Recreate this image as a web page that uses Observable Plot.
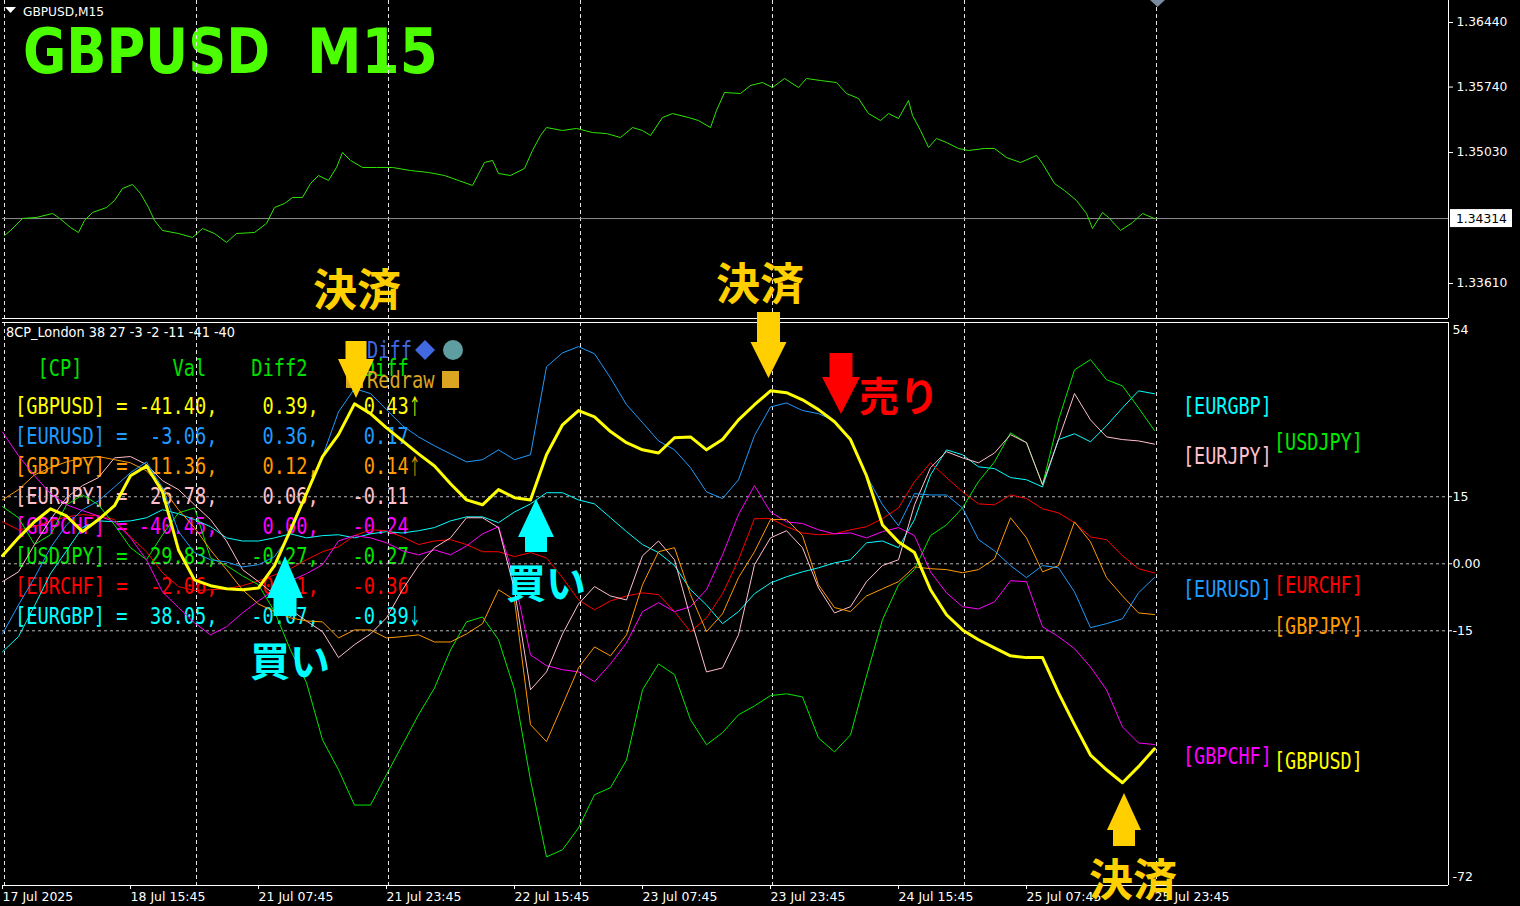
<!DOCTYPE html>
<html><head><meta charset="utf-8">
<script src="https://cdn.jsdelivr.net/npm/d3@7"></script>
<script src="https://cdn.jsdelivr.net/npm/@observablehq/plot@0.6"></script>
<style>
html,body{margin:0;padding:0;background:#000;width:1520px;height:906px;overflow:hidden;}
#wrap{position:relative;width:1520px;height:906px;background:#000;}
</style></head><body><div id="wrap"></div>
<script>
// ---------------- data ----------------
const sampleStep = 8; // bars between indicator samples (M15 bars)
const pairs = ["GBPUSD","EURUSD","GBPJPY","EURJPY","GBPCHF","USDJPY","EURCHF","EURGBP"];
const pairColors = ["#ffff00","#1e9bff","#ff9900","#ffc0cb","#ff00ff","#00e800","#ff0000","#00ffff"];

const GBPUSD = [1.8,5.8,9.4,12.3,10.7,7.2,9.9,13.0,19.7,21.9,16.1,3.1,-3.6,-4.9,-5.6,-5.8,-5.4,-0.4,7.6,15.7,24.0,28.9,35.8,33.6,30.4,27.5,24.6,21.9,17.9,14.3,13.2,16.6,14.8,14.3,24.4,31.1,34.3,32.9,29.6,27.1,25.5,24.8,28.2,28.4,25.5,27.8,32.2,35.6,38.7,38.3,36.7,34.5,31.8,27.8,19.7,8.7,4.9,2.5,-5.8,-11.4,-14.8,-17.0,-18.8,-20.6,-21.0,-21.0,-28.9,-36.0,-42.8,-46.1,-49.0,-45.4,-41.4];
const EURUSD = [-15.7,-9.2,-3.1,3.6,8.7,12.1,14.1,17.2,20.4,22.8,17.0,7.2,2.5,0.9,0.4,-0.7,-0.2,1.6,6.7,15.7,24.0,34.0,39.2,38.1,34.5,30.9,28.4,26.4,24.6,22.8,23.3,25.5,23.3,24.4,44.1,47.2,48.6,47.0,41.6,35.6,31.6,27.5,25.5,21.5,16.1,14.6,18.8,28.7,35.1,36.0,34.3,33.6,32.0,27.8,19.7,13.2,8.5,15.7,15.4,15.4,12.5,5.4,2.9,-0.4,-3.1,-0.4,-0.9,-6.3,-14.3,-13.4,-12.3,-6.5,-3.06];
const GBPJPY = [14.3,16.6,19.9,21.5,22.8,23.7,24.0,23.3,22.6,20.8,17.0,12.1,8.1,3.1,-1.3,-5.8,-9.0,-10.7,-12.1,-12.8,-13.0,-16.6,-14.8,-14.8,-16.6,-16.3,-15.9,-17.5,-17.5,-15.7,-13.4,-5.8,-8.1,-36.0,-39.8,-31.6,-23.3,-18.6,-20.6,-15.9,-4.7,2.7,3.6,-6.9,-15.2,-11.2,-3.1,2.7,9.9,9.9,6.3,-4.7,-9.8,-10.7,-7.2,-5.6,-4.0,-0.7,-1.1,-1.3,-2.0,-1.3,1.1,10.3,5.8,-1.8,-0.4,9.4,4.9,-3.1,-7.2,-11.0,-11.36];
const EURJPY = [-4.0,-1.8,4.3,9.9,14.8,17.5,19.3,23.7,24.0,22.2,18.6,16.6,13.2,9.9,5.1,-1.3,-4.0,-6.9,-10.3,-12.8,-15.2,-21.0,-18.1,-15.7,-12.1,-5.8,-0.4,3.6,5.8,10.3,10.3,8.1,-5.8,-28.2,-24.2,-15.7,-9.0,-5.1,-7.2,-8.1,1.8,5.1,0.9,-12.1,-24.2,-23.3,-15.9,-0.2,5.8,7.4,3.6,-5.4,-11.0,-9.6,-4.0,-0.4,0.9,13.2,21.5,25.1,23.7,22.6,24.8,28.9,27.1,17.7,27.8,38.1,32.2,28.4,27.8,27.5,26.78];
const GBPCHF = [29.5,24.2,19.7,15.7,13.2,11.9,10.7,9.4,5.8,0.9,-6.3,-9.8,-13.2,-15.9,-14.1,-11.0,-8.3,-5.8,-3.8,-2.2,-0.2,5.1,6.3,5.8,4.7,2.9,2.0,3.1,2.0,4.0,6.7,8.3,-3.6,-20.4,-22.8,-23.7,-24.2,-26.4,-22.4,-17.7,-10.7,-8.7,-10.7,-9.6,-5.8,2.0,11.0,17.5,11.6,9.4,9.0,7.6,6.7,6.9,5.8,7.2,8.1,6.3,-1.8,-6.5,-9.6,-10.1,-8.5,-3.8,-4.0,-14.1,-16.3,-19.0,-23.1,-28.2,-36.5,-40.1,-40.45];
const USDJPY = [12.8,10.3,4.3,6.5,13.2,15.4,13.2,8.7,3.6,0.9,6.5,11.4,12.5,1.3,-0.4,-2.7,-4.7,-10.7,-19.3,-26.6,-39.4,-46.1,-54.0,-54.0,-47.2,-40.5,-33.8,-27.8,-19.3,-13.0,-11.9,-17.0,-28.2,-48.4,-65.6,-64.0,-59.1,-51.7,-50.1,-43.9,-28.2,-22.4,-24.8,-34.9,-40.5,-37.8,-33.8,-31.8,-29.5,-29.1,-29.8,-39.0,-42.1,-38.3,-25.1,-12.5,-4.7,-1.3,6.3,8.7,12.5,18.4,22.8,29.3,27.1,17.7,32.2,43.4,45.7,41.2,39.8,34.9,29.83];
const EURCHF = [9.4,7.6,8.3,9.6,10.5,11.0,10.7,9.9,6.0,2.7,-2.0,-5.1,-6.0,-5.8,-5.6,-4.9,-3.8,-2.5,-1.1,0.9,2.7,3.8,6.3,7.6,7.4,6.0,4.3,5.1,5.4,4.3,2.7,2.7,1.6,2.5,1.3,-3.1,-8.1,-10.3,-8.3,-7.2,-6.5,-6.9,-10.7,-15.2,-12.1,-6.7,0.9,10.1,10.1,8.3,6.9,6.5,6.7,7.6,8.3,10.1,12.5,18.4,22.6,19.3,16.1,13.4,13.2,15.4,14.6,12.3,11.4,9.2,6.0,5.4,1.8,-1.1,-2.06];
const EURGBP = [-19.7,-16.3,-9.4,-2.2,2.9,8.1,9.6,9.4,9.6,10.3,12.1,11.2,9.9,8.3,5.8,5.1,5.1,5.8,6.7,5.8,6.3,6.5,5.8,6.7,7.2,6.9,7.4,8.1,9.6,10.5,10.5,9.2,11.6,13.4,15.9,15.9,14.3,13.4,10.3,7.2,4.3,2.5,-0.4,-5.8,-9.2,-13.4,-10.7,-6.7,-4.3,-2.9,-1.8,-0.9,0.2,0.9,4.7,5.1,3.6,9.9,19.9,25.5,24.4,21.7,21.3,19.3,18.8,17.2,27.8,29.1,27.3,30.9,34.9,38.7,38.05];

// GBPUSD close, read at the turning points of the price line (bar index, price)
const priceBars = [1,4,10,17,25,28,34,38,41,45,52,56,60,65,69,73,76,80,88,95,100,106,112,117,126,132,136,141,145,150,154,158,163,167,170,174,180,187,195,204,213,221,228,235,241,245,248,254,261,265,269,272,280,287,295,302,309,315,320,324,330,335,343,348,354,357,361,369,374,380,385,391,398,402,409,417,422,428,433,439,443,448,453,455,459,463,467,472,478,483,491,496,502,509,517,520,526,531,537,542,545,550,553,559,565,570,576];
const price = [1.34130,1.34185,1.34315,1.34326,1.34369,1.34326,1.34217,1.34163,1.34293,1.34380,1.34434,1.34510,1.34640,1.34683,1.34586,1.34434,1.34293,1.34185,1.34152,1.34109,1.34206,1.34152,1.34055,1.34152,1.34163,1.34261,1.34434,1.34477,1.34543,1.34543,1.34694,1.34781,1.34727,1.34868,1.35030,1.34944,1.34868,1.34868,1.34868,1.34835,1.34814,1.34781,1.34727,1.34673,1.34922,1.34944,1.34803,1.34781,1.34857,1.35052,1.35215,1.35301,1.35269,1.35291,1.35247,1.35236,1.35193,1.35301,1.35269,1.35215,1.35410,1.35453,1.35410,1.35377,1.35301,1.35486,1.35681,1.35670,1.35757,1.35789,1.35735,1.35833,1.35735,1.35833,1.35811,1.35789,1.35670,1.35616,1.35453,1.35377,1.35453,1.35399,1.35594,1.35432,1.35269,1.35085,1.35182,1.35139,1.35074,1.35052,1.35074,1.35074,1.34976,1.34922,1.34998,1.34911,1.34694,1.34618,1.34510,1.34369,1.34206,1.34380,1.34326,1.34185,1.34271,1.34369,1.34314];

const bidPrice = 1.34314;
const priceTicks = [1.33610,1.35030,1.35740,1.36440];
const indTicks = [15,0,-15];
const indTickLabels = ["15","0.00","-15"];
const indMax = 54, indMin = -72;
const xTickBars = [0,64,128,192,256,320,384,448,512,576];
const xTickLabels = ["17 Jul 2025","18 Jul 15:45","21 Jul 07:45","21 Jul 23:45","22 Jul 15:45","23 Jul 07:45","23 Jul 23:45","24 Jul 15:45","25 Jul 07:45","25 Jul 23:45"];
const gridBars = [1,97,193,289,385,481,577];

const tableVal   = [-41.40,-3.06,-11.36,26.78,-40.45,29.83,-2.06,38.05];
const tableDiff2 = [0.39,0.36,0.12,0.06,0.00,-0.27,-0.01,-0.07];
const tableDiff  = [0.43,0.17,0.14,-0.11,-0.24,-0.27,-0.36,-0.39];
const tableArrow = ["↑","","↑","","","","","↓"];
const headerText = "8CP_London 38 27 -3 -2 -11 -41 -40";

// ---------------- build ----------------
const series = {GBPUSD,EURUSD,GBPJPY,EURJPY,GBPCHF,USDJPY,EURCHF,EURGBP};
const bars = GBPUSD.map((_, i) => i * sampleStep);
const xDomain = [0, 723];
const colorOf = Object.fromEntries(pairs.map((p, i) => [p, pairColors[i]]));
const rows = pairs.flatMap(p => series[p].map((v, i) => ({pair: p, bar: bars[i], v})));
const priceRows = price.map((p, i) => ({bar: priceBars[i], p}));

const wrap = document.getElementById("wrap");
const W = 1520, H = 906;

function layer() {
  return d3.create("svg").attr("width", W).attr("height", H)
    .style("position", "absolute").style("left", "0px").style("top", "0px");
}
const under = layer();
wrap.appendChild(under.node());

const baseStyle = {background: "transparent", color: "#ffffff", fontFamily: "DejaVu Sans", fontSize: "12px", overflow: "visible"};

const topPlot = Plot.plot({
  width: W, height: 319, marginLeft: 2, marginRight: 72, marginTop: 0, marginBottom: 1,
  style: baseStyle,
  x: {domain: xDomain, axis: null},
  y: {domain: [1.332305, 1.366785]},
  marks: [
    Plot.ruleX(gridBars, {stroke: "#e6e6e6", strokeDasharray: "4,3"}),
    Plot.ruleY([bidPrice], {stroke: "#8f8f8f"}),
    Plot.line(priceRows, {x: "bar", y: "p", stroke: "#2fe600", strokeWidth: 1}),
    Plot.axisY({anchor: "right", ticks: priceTicks, tickSize: 4, tickPadding: 4, label: null,
      tickFormat: d => d.toFixed(5), fontSize: 12.3}),
    Plot.ruleX([xDomain[1]], {stroke: "#ffffff"}),
    Plot.ruleY([1.332305], {stroke: "#ffffff"})
  ]
});
topPlot.style.position = "absolute"; topPlot.style.left = "0px"; topPlot.style.top = "0px";
wrap.appendChild(topPlot);

const lineMarks = pairs.slice(1).reverse().map(p =>
  Plot.line(rows.filter(d => d.pair === p), {x: "bar", y: "v", stroke: colorOf[p], strokeWidth: 1}));

const botPlot = Plot.plot({
  width: W, height: 586, marginLeft: 2, marginRight: 72, marginTop: 2, marginBottom: 21,
  style: baseStyle,
  x: {domain: xDomain},
  y: {domain: [indMin, indMax]},
  marks: [
    Plot.ruleY(indTicks, {stroke: "#b4b4b4", strokeDasharray: "3,3"}),
    Plot.ruleX(gridBars, {stroke: "#e6e6e6", strokeDasharray: "4,3"}),
    ...lineMarks,
    Plot.line(rows.filter(d => d.pair === "GBPUSD"), {x: "bar", y: "v", stroke: colorOf.GBPUSD, strokeWidth: 3}),
    Plot.axisX({ticks: xTickBars, tickSize: 4, tickPadding: 3, label: null, textAnchor: "start",
      tickFormat: d => xTickLabels[xTickBars.indexOf(d)], fontSize: 12.5}),
    Plot.axisY({anchor: "right", ticks: indTicks, tickSize: 3, tickPadding: 1, label: null,
      tickFormat: d => indTickLabels[indTicks.indexOf(d)], fontSize: 12.5}),
    Plot.text([indMax], {y: d => d, frameAnchor: "right", textAnchor: "start", dx: 4, dy: 7, text: d => String(d), fill: "#fff", fontSize: 12.5}),
    Plot.text([indMin], {y: d => d, frameAnchor: "right", textAnchor: "start", dx: 4, dy: -9, text: d => String(d), fill: "#fff", fontSize: 12.5}),
    Plot.ruleX([xDomain[1]], {stroke: "#ffffff"}),
    Plot.ruleY([indMin], {stroke: "#ffffff"}),
    Plot.ruleY([indMax], {stroke: "#ffffff"})
  ]
});
botPlot.style.position = "absolute"; botPlot.style.left = "0px"; botPlot.style.top = "320px";
wrap.appendChild(botPlot);

const over = layer();
wrap.appendChild(over.node());

// ---------------- text helpers ----------------
const MONO = "DejaVu Sans Mono";
function fitText(g, str, x, baseline, len, size, fill, family, weight) {
  return g.append("text").attr("x", x).attr("y", baseline)
    .attr("font-family", family).attr("font-size", size).attr("font-weight", weight || "normal")
    .attr("fill", fill).attr("textLength", len).attr("lengthAdjust", "spacingAndGlyphs")
    .style("white-space", "pre").text(str);
}
function mono(g, str, x0, cell, cy, fill, cw = 11.25, fs = 23) {
  return fitText(g, str, x0 + cell * cw, cy + 0.3645 * fs, str.length * cw, fs, fill, MONO);
}
function monoEnd(g, str, x0, endCell, cy, fill) {
  return mono(g, str, x0, endCell - str.length + 1, cy, fill);
}

// top-left chart caption and title
under.append("polygon").attr("points", "5,7 16,7 10.5,13").attr("fill", "#fff");
fitText(under, "GBPUSD,M15", 23, 15.5, 81, 11.5, "#ffffff", "DejaVu Sans");
fitText(under, "GBPUSD", 23, 73, 247, 63, "#4cff00", "DejaVu Sans", "bold");
fitText(under, "M15", 307, 73, 131, 63, "#4cff00", "DejaVu Sans", "bold");

// indicator caption
fitText(under, headerText, 6, 337, 229, 14, "#ffffff", "DejaVu Sans");

// table
const X0 = 15, green = "#00e000";
const headY = 368;
mono(under, "[CP]", X0, 2, headY, green);
mono(under, "Val", X0, 14, headY, green);
mono(under, "Diff2", X0, 21, headY, green);
mono(under, "Diff", X0, 31, headY, green);
pairs.forEach((p, i) => {
  const cy = 406 + 30 * i, c = colorOf[p];
  mono(under, `[${p}]`, X0, 0, cy, c);
  mono(under, "=", X0, 9, cy, c);
  monoEnd(under, tableVal[i].toFixed(2) + ",", X0, 17, cy, c);
  monoEnd(under, tableDiff2[i].toFixed(2) + ",", X0, 26, cy, c);
  monoEnd(under, tableDiff[i].toFixed(2), X0, 34, cy, c);
  if (tableArrow[i]) {
    under.append("text").attr("x", X0 + 35 * 11.25).attr("y", cy + 8)
      .attr("font-family", "Noto Sans CJK JP").attr("font-size", 22).attr("fill", c)
      .attr("textLength", 12).attr("lengthAdjust", "spacingAndGlyphs").text(tableArrow[i]);
  }
});
// Diff / Redraw buttons
mono(under, "Diff", 367, 0, 350, "#4169e1");
under.append("polygon").attr("points", "425,340 435,350 425,360 415,350").attr("fill", "#4169e1");
under.append("circle").attr("cx", 453).attr("cy", 350).attr("r", 10).attr("fill", "#5f9ea0");
under.append("rect").attr("x", 346).attr("y", 371).attr("width", 17).attr("height", 17).attr("fill", "#daa520");
mono(under, "Redraw", 367, 0, 380, "#daa520");
under.append("rect").attr("x", 442).attr("y", 371).attr("width", 17).attr("height", 17).attr("fill", "#daa520");

// right-side pair labels at each series' last value
const yScale = botPlot.scale("y");
const labelColumnX = {GBPUSD: 1274, EURUSD: 1183, GBPJPY: 1274, EURJPY: 1183, GBPCHF: 1183, USDJPY: 1274, EURCHF: 1274, EURGBP: 1183};
pairs.forEach(p => {
  const last = series[p][series[p].length - 1];
  const cy = 320 + yScale.apply(last) + 12;
  mono(over, `[${p}]`, labelColumnX[p], 0, cy, colorOf[p], 11.1);
});

// current price box
const ps = topPlot.scale("y");
const by = ps.apply(bidPrice);
over.append("rect").attr("x", 1450).attr("y", by - 9).attr("width", 62).attr("height", 18).attr("fill", "#fff");
over.append("text").attr("x", 1456).attr("y", by + 4.5).attr("font-family", "DejaVu Sans").attr("font-size", 12.3).attr("fill", "#000").text(bidPrice.toFixed(5));
// shift marker
over.append("polygon").attr("points", "1150,0 1165,0 1157.5,7").attr("fill", "#7a8aa0");

// arrows
function arrow(g, cx, yEnd, yBase, yTip, sh, hh, fill) {
  const pts = [[cx - sh, yEnd], [cx + sh, yEnd], [cx + sh, yBase], [cx + hh, yBase], [cx, yTip], [cx - hh, yBase], [cx - sh, yBase]];
  g.append("polygon").attr("points", pts.map(d => d.join(",")).join(" ")).attr("fill", fill);
}
const GOLD = "#ffcf00", CYAN = "#00ffff", RED = "#ff0000";
arrow(over, 356, 341, 359, 398, 10.5, 18, GOLD);
arrow(over, 768.5, 312, 342, 378, 11.5, 18, GOLD);
arrow(over, 841, 353, 377, 414, 11.5, 19, RED);
arrow(over, 1124, 846, 830, 793, 11, 17, GOLD);
arrow(over, 285, 616, 598, 556, 11.5, 18, CYAN);
arrow(over, 536, 552, 537, 499, 11, 18, CYAN);

function jp(g, str, cx, cy, size, fill) {
  g.append("text").attr("x", cx).attr("y", cy).attr("text-anchor", "middle").attr("dominant-baseline", "central")
    .attr("font-family", "Noto Sans CJK JP").attr("font-weight", "bold").attr("font-size", size).attr("fill", fill).text(str);
}
jp(over, "決済", 357, 287, 44, GOLD);
jp(over, "決済", 760, 281, 44, GOLD);
jp(over, "決済", 1133, 877, 44, GOLD);
jp(over, "買い", 290, 659, 40, CYAN);
jp(over, "買い", 546, 581, 40, CYAN);
jp(over, "売り", 899, 394, 40, RED);
</script></body></html>
